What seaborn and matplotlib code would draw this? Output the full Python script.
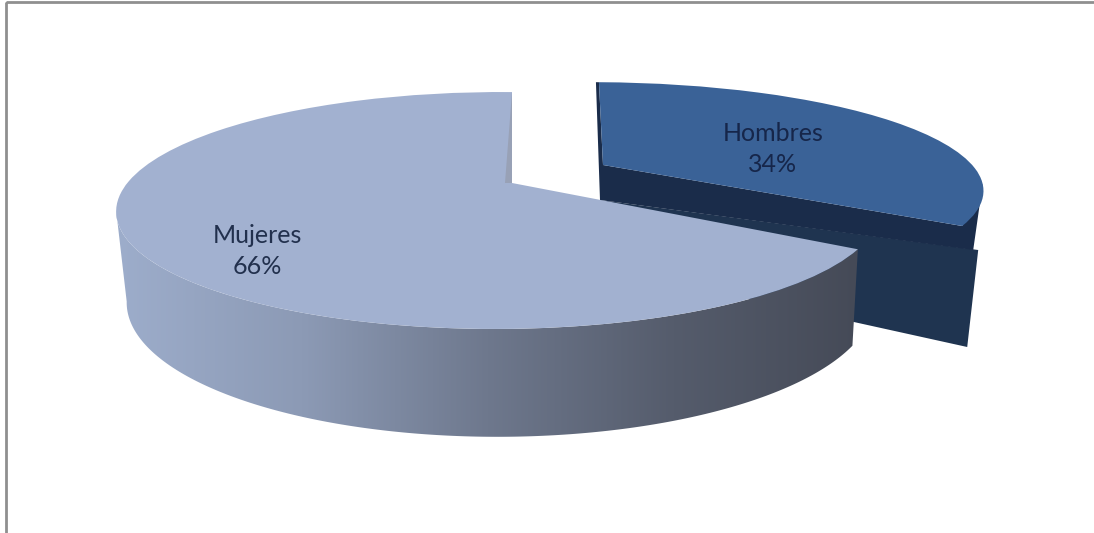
#!/usr/bin/env python3
import numpy as np

import matplotlib
matplotlib.use("Agg")
import matplotlib.pyplot as plt
import matplotlib.transforms as mtransforms
from matplotlib.patches import Polygon, Rectangle
import seaborn as sns

categories = ["Mujeres", "Hombres"]
percentages = [66, 34]
slice_colors = ["#A2B1D0", "#3A6297"]
wall_colors = ["#9DADCB", "#8C9AB5", "#6E788D", "#555C6C", "#454A57"]

text_colors = ["#22304D", "#16264A"]
frame_color = "#8F8F8F"
label_xy = [(257, 251), (773, 149)]


class Perspective(mtransforms.Transform):
    # tilted disc: unit pie coords -> image pixels
    input_dims = 2
    output_dims = 2

    def __init__(self, apex, a, b, k=0.232, m=0.0355, s=0.0):
        super().__init__()
        self.apex, self.a, self.b, self.k, self.m, self.s = apex, a, b, k, m, s

    def transform_non_affine(self, values):
        x, y = np.asarray(values).T
        w = 1 + self.k * y + self.m * x
        return np.column_stack(
            [
                self.apex[0] + (self.a * x + self.s * y) / w,
                self.apex[1] - self.b * y / w,
            ]
        )


def rim(tr, angles):
    rad = np.radians(angles)
    return tr.transform_non_affine(np.column_stack([np.cos(rad), np.sin(rad)]))


sns.set_style("white")
fig = plt.figure(figsize=(10.94, 5.33), dpi=100)
ax = fig.add_axes([0, 0, 1, 1])

wedges, _ = ax.pie(
    percentages,
    colors=slice_colors,
    startangle=90,
    radius=1,
    wedgeprops={"linewidth": 0, "edgecolor": "none"},
)
ax.set_aspect("auto")
ax.set_xlim(0, 1094)
ax.set_ylim(533, 0)
ax.axis("off")

top_w = Perspective((512, 183), 371, 112)
base_w = Perspective((514, 270), 363, 128)
top_m = Perspective((603, 165), 378, 102, m=0.024, s=-5)

# Hombres, pulled out of the pie
a = np.array(top_m.apex, dtype=float)
end_m, back_m, bulge = rim(
    top_m, [wedges[1].theta1, wedges[1].theta2, wedges[1].theta1 + 22]
)
ax.add_patch(
    Polygon(
        [a + (-3, 35), end_m + (16, 24), end_m + (5, 121), a + (-3, 101)],
        color="#1F3450",
        lw=0,
        zorder=2,
    )
)
ax.add_patch(
    Polygon(
        [a, end_m, bulge, end_m + (11, 24), a + (-3, 35), back_m + (-3, 0), back_m],
        color="#1A2C4A",
        lw=0,
        zorder=3,
    )
)
wedges[1].set_transform(top_m + ax.transData)
wedges[1].set_zorder(4)

# Mujeres side wall, shaded left to right
# starts where each rim is leftmost so the outline has no notch
arc = np.linspace(193, wedges[0].theta2, 200)
wall = np.vstack([rim(top_w, arc), rim(base_w, arc)[::-1]])
wall_patch = Polygon(wall, transform=ax.transData, fc="none", ec="none")
ax.add_patch(wall_patch)
shade = ax.imshow(
    np.linspace(0, 1, 256).reshape(1, -1),
    cmap=sns.blend_palette(wall_colors, as_cmap=True),
    extent=(116, 860, 533, 0),
    aspect="auto",
    zorder=5,
)
shade.set_clip_path(wall_patch)
ax.set_xlim(0, 1094)
ax.set_ylim(533, 0)

wedges[0].set_transform(top_w + ax.transData)
wedges[0].set_zorder(6)

# thin inner face at the back of the big slice
back_w = rim(top_w, [wedges[0].theta1])[0]
ax.add_patch(
    Polygon(
        [back_w, np.array(top_w.apex) + (-7, 0), top_w.apex],
        color="#98A1B6",
        lw=0,
        zorder=7,
    )
)

for cat, pct, (lx, ly), col in zip(categories, percentages, label_xy, text_colors):
    ax.text(
        lx,
        ly,
        f"{cat}\n{pct}%",
        ha="center",
        va="center",
        fontsize=18,
        family="Lato",
        color=col,
        linespacing=1.4,
        zorder=8,
    )

ax.add_patch(
    Rectangle((6, 2), 1300, 700, fill=False, ec=frame_color, lw=2, zorder=9)
)

fig.savefig("out.png", dpi=100)
